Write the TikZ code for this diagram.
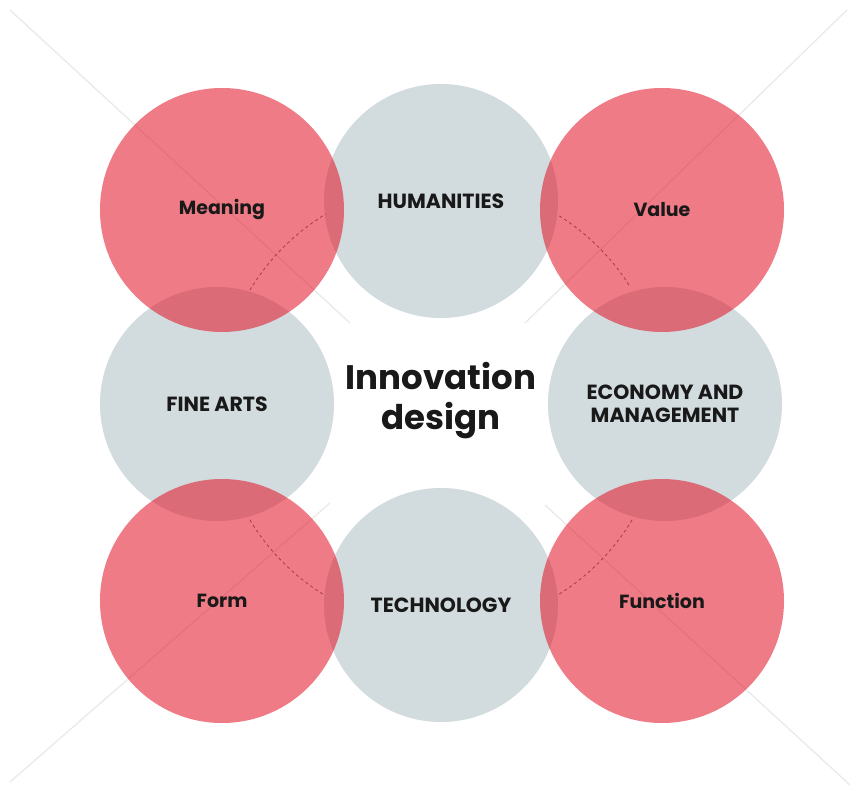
\documentclass[tikz,border=0pt]{standalone}
\usepackage{fontspec}
\setmainfont{Poppins}
\definecolor{petal}{RGB}{227,28,45}
\definecolor{mist}{RGB}{210,219,222}
\definecolor{dashc}{RGB}{165,60,72}
\definecolor{faint}{RGB}{234,234,234}
\definecolor{ink}{RGB}{25,25,25}
\tikzset{
  graycirc/.style={circle, fill=mist, minimum size=234pt, inner sep=0pt, text=ink, font=\bfseries\fontsize{20.5}{23}\selectfont, align=center},
  redcirc/.style={circle, fill=petal, fill opacity=0.58, text opacity=1, minimum size=244pt, inner sep=0pt, text=ink, font=\bfseries\fontsize{19}{23}\selectfont},
  dasharc/.style={draw=dashc, line width=0.8pt, dash pattern=on 3pt off 3pt},
  xline/.style={draw=faint, line width=1.3pt}
}
\begin{document}
\begin{tikzpicture}[x=1pt,y=-1pt]
\useasboundingbox (0,0) rectangle (857,791);
\fill[white] (0,0) rectangle (857,791);
% faint diagonal lines
\coordinate (tl1) at (10,10);   \coordinate (tl2) at (350,323);
\coordinate (tr1) at (847,10);  \coordinate (tr2) at (525,323);
\coordinate (bl1) at (330,503); \coordinate (bl2) at (10,782);
\coordinate (br1) at (545,505); \coordinate (br2) at (850,785);
\draw[xline] (tl1) -- (tl2);
\draw[xline] (tr1) -- (tr2);
\draw[xline] (bl1) -- (bl2);
\draw[xline] (br1) -- (br2);
% gray circles
\node[graycirc] (hum) at (441,201) {HUMANITIES};
\node[graycirc] (fine) at (217,404) {FINE ARTS};
\node[graycirc] (eco) at (665,404) {ECONOMY AND\\MANAGEMENT};
\node[graycirc] (tech) at (441,605) {TECHNOLOGY};
% red circles
\node[redcirc] (mean) at (222,210) {Meaning};
\node[redcirc] (val) at (662,210) {Value};
\node[redcirc] (form) at (222,601) {Form};
\node[redcirc] (func) at (662,601) {Function};
% center title
\node[font=\bfseries\fontsize{34}{40}\selectfont, text=ink, align=center] (title) at (441,401) {Innovation\\design};
% dashed arcs
\coordinate (c) at (441,405);
\draw[dasharc] (c) ++(211:223) arc[start angle=211, end angle=239, radius=223];
\draw[dasharc] (c) ++(302:223) arc[start angle=302, end angle=328, radius=223];
\draw[dasharc] (c) ++(122:223) arc[start angle=122, end angle=149, radius=223];
\draw[dasharc] (c) ++(31:223) arc[start angle=31, end angle=58, radius=223];
\end{tikzpicture}
\end{document}
